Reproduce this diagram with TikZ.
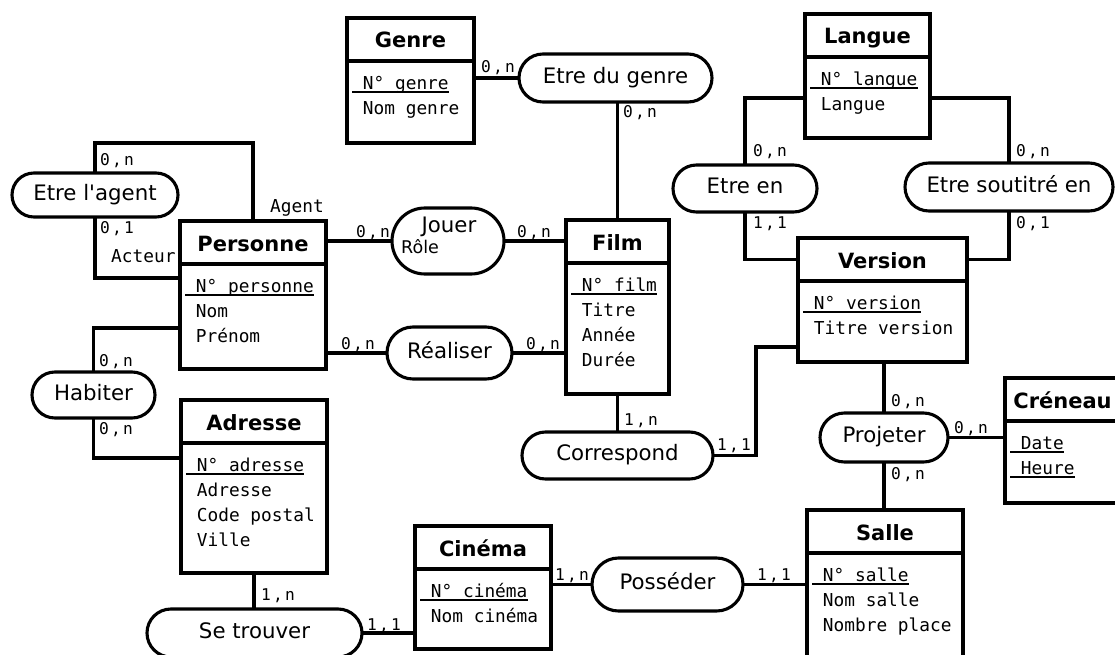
\documentclass[tikz,border=0pt]{standalone}
\usepackage{fontspec}
\setmainfont{DejaVu Sans}[Ligatures=TeXOff]
\setmonofont{DejaVu Sans Mono}
\newcommand{\cardi}[2]{#1\kern2.2pt,\kern2.2pt#2}
\tikzset{
  lw/.style={line width=3.1pt},
  entbox/.style={draw, lw, inner sep=0pt, outer sep=0pt, anchor=north west},
  relbox/.style={draw, lw, inner sep=0pt, outer sep=0pt, text height=15pt, text depth=4.5pt, font=\fontsize{21.3}{24}\selectfont},
  ttl/.style={font=\fontsize{21}{24}\selectfont\bfseries, anchor=base, inner sep=0pt},
  att/.style={font=\fontsize{17.8}{20}\selectfont\ttfamily, anchor=base west, inner sep=0pt},
  crd/.style={font=\fontsize{16.2}{18}\selectfont\ttfamily, anchor=base west, inner sep=0pt},
  uln/.style={line width=1.4pt},
  conn/.style={lw, line join=miter},
}
\newcommand{\ent}[6]{%
  \node[entbox, minimum width=#4pt, minimum height=#5pt] (#1) at (#2,#3) {};
  \draw[lw] ([yshift=-43pt]#1.north west) -- ([yshift=-43pt]#1.north east);
  \node[ttl] (#1-t) at ([yshift=-30pt]#1.north) {#6};
}
\newcommand{\att}[3]{%
  \pgfmathsetmacro\attdy{-(71.5+25*#2)}%
  \node[att] (#1-a#2) at ([xshift=5pt,yshift=\attdy pt]#1.north west) {\ #3};
}
\newcommand{\keyatt}[3]{%
  \att{#1}{#2}{#3}%
  \draw[uln] ([yshift=-2.5pt]#1-a#2.base west) -- ([yshift=-2.5pt]#1-a#2.base east);
}
\newcommand{\rel}[6]{%
  \pgfmathsetmacro\relr{0.499*#5}%
  \node[relbox, minimum width=#4pt, minimum height=#5pt, rounded corners=\relr pt] (#1) at (#2,#3) {#6};
}
\begin{document}
\begin{tikzpicture}[x=1pt, y=-1pt]
\useasboundingbox (0,0) rectangle (1115,655);
\clip (0,0) rectangle (1115,655);

% entities
\ent{genre}{347}{18}{127}{125}{Genre}
\keyatt{genre}{0}{N° genre}
\att{genre}{1}{Nom genre}

\ent{langue}{805}{14}{125}{124}{Langue}
\keyatt{langue}{0}{N° langue}
\att{langue}{1}{Langue}

\ent{personne}{180}{221}{146}{148}{Personne}
\keyatt{personne}{0}{N° personne}
\att{personne}{1}{Nom}
\att{personne}{2}{Prénom}

\ent{film}{566}{220}{103}{174}{Film}
\keyatt{film}{0}{N° film}
\att{film}{1}{Titre}
\att{film}{2}{Année}
\att{film}{3}{Durée}

\ent{version}{798}{238}{169}{124}{Version}
\keyatt{version}{0}{N° version}
\att{version}{1}{Titre version}

\ent{adresse}{181}{400}{146}{173}{Adresse}
\keyatt{adresse}{0}{N° adresse}
\att{adresse}{1}{Adresse}
\att{adresse}{2}{Code postal}
\att{adresse}{3}{Ville}

\ent{creneau}{1005}{378}{115}{125}{Créneau}
\keyatt{creneau}{0}{Date}
\keyatt{creneau}{1}{Heure}

\ent{salle}{807}{510}{156}{160}{Salle}
\keyatt{salle}{0}{N° salle}
\att{salle}{1}{Nom salle}
\att{salle}{2}{Nombre place}

\ent{cinema}{415}{526}{136}{123}{Cinéma}
\keyatt{cinema}{0}{N° cinéma}
\att{cinema}{1}{Nom cinéma}

% relations
\rel{edg}{615.5}{78}{193}{48}{Etre du genre}
\rel{agent}{95}{195}{166}{44}{Etre l'agent}
\rel{jouer}{448}{241}{112}{66}{}
\node[font=\fontsize{21.3}{24}\selectfont, anchor=base, inner sep=0pt] (jouer-t) at (449,232) {Jouer};
\node[font=\fontsize{17.5}{20}\selectfont, anchor=base west, inner sep=0pt] (role) at (401,253) {Rôle};
\rel{real}{449.5}{353}{125}{52}{Réaliser}
\rel{habiter}{93.5}{395}{123}{46}{Habiter}
\rel{corr}{617.5}{455.5}{191}{47}{Correspond}
\rel{etreen}{745}{188.5}{144}{47}{Etre en}
\rel{soust}{1009}{187}{208}{48}{Etre soutitré en}
\rel{proj}{884}{437.5}{128}{49}{Projeter}
\rel{poss}{667.5}{584.5}{151}{53}{Posséder}
\rel{setr}{254.5}{633}{215}{48}{Se trouver}

% connectors
\draw[conn] (genre.east |- edg.west) -- (edg.west);
\draw[conn] (edg.south -| film.north) -- (film.north);
\draw[conn] (agent.north) -- ++(0,-30) -| (personne.north);
\draw[conn] (agent.south) |- ([yshift=17pt]personne.west);
\draw[conn] (personne.east |- jouer.west) -- (jouer.west);
\draw[conn] (jouer.east) -- (jouer.east -| film.west);
\draw[conn] (personne.east |- real.west) -- (real.west);
\draw[conn] (real.east) -- (real.east -| film.west);
\draw[conn] ([yshift=-33pt]personne.west) -| (habiter.north);
\draw[conn] (habiter.south) |- ([yshift=28.5pt]adresse.west);
\draw[conn] (adresse.south) -- (adresse.south |- setr.north);
\draw[conn] (setr.east) -- (setr.east -| cinema.west);
\draw[conn] (cinema.east |- poss.west) -- (poss.west);
\draw[conn] (poss.east) -- (poss.east -| salle.west);
\draw[conn] (proj.south) -- (proj.south |- salle.north);
\draw[conn] (proj.east) -- (proj.east -| creneau.west);
\draw[conn] (version.south -| proj.north) -- (proj.north);
\draw[conn] (film.south) -- (film.south |- corr.north);
\draw[conn] (corr.east) -- ++(43,0) |- ([yshift=-47pt]version.west);
\draw[conn] ([yshift=-22pt]langue.west) -| (etreen.north);
\draw[conn] (etreen.south) |- ([yshift=40.5pt]version.west);
\draw[conn] ([yshift=-22pt]langue.east) -| (soust.north);
\draw[conn] (soust.south) |- ([yshift=40.5pt]version.east);

% cardinalities and role labels
\node[crd] (c1) at (481,73) {\cardi0n};
\node[crd] (c2) at (623,118) {\cardi0n};
\node[crd] (c3) at (100,166) {\cardi0n};
\node[crd] (c4) at (100,233) {\cardi01};
\node[att] (lagent) at (270,212) {Agent};
\node[att] (lacteur) at (111,262) {Acteur};
\node[crd] (c5) at (356,237) {\cardi0n};
\node[crd] (c6) at (517,237) {\cardi0n};
\node[crd] (c7) at (341,349) {\cardi0n};
\node[crd] (c8) at (526,349) {\cardi0n};
\node[crd] (c9) at (99,366) {\cardi0n};
\node[crd] (c10) at (99,434) {\cardi0n};
\node[crd] (c11) at (261,600) {\cardi1n};
\node[crd] (c12) at (367,630) {\cardi11};
\node[crd] (c13) at (555,580) {\cardi1n};
\node[crd] (c14) at (757,580) {\cardi11};
\node[crd] (c15) at (624,425) {\cardi1n};
\node[crd] (c16) at (717,450) {\cardi11};
\node[crd] (c17) at (753,157) {\cardi0n};
\node[crd] (c18) at (753,228) {\cardi11};
\node[crd] (c19) at (1016,157) {\cardi0n};
\node[crd] (c20) at (1016,228) {\cardi01};
\node[crd] (c21) at (891,406) {\cardi0n};
\node[crd] (c22) at (954,433) {\cardi0n};
\node[crd] (c23) at (891,479) {\cardi0n};
\end{tikzpicture}
\end{document}
